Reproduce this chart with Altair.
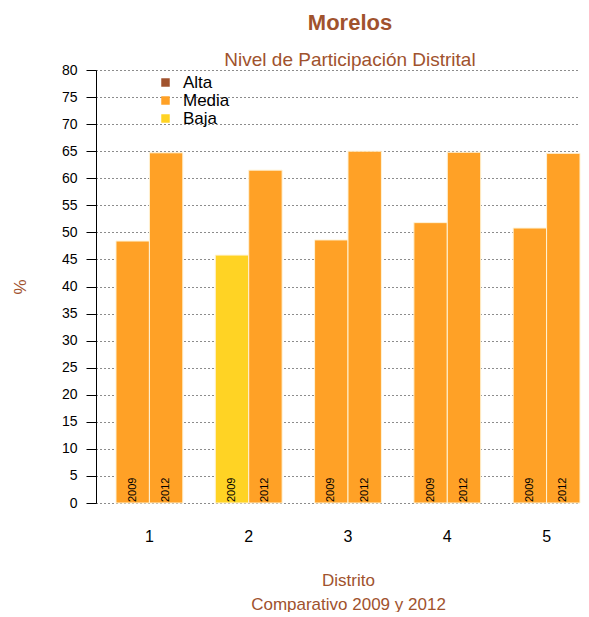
import altair as alt
import pandas as pd

distritos = ["1", "2", "3", "4", "5"]
anios = ["2009", "2012"]
p2009 = [48.4, 45.8, 48.6, 51.8, 50.8]
p2012 = [64.7, 61.5, 65.0, 64.8, 64.6]
nivel2009 = ["Media", "Baja", "Media", "Media", "Media"]
nivel2012 = ["Media", "Media", "Media", "Media", "Media"]
niveles = ["Alta", "Media", "Baja"]
colores = ["#A0522D", "#FFA126", "#FFD324"]
y_ticks = list(range(0, 81, 5))

rows = []
for i, d in enumerate(distritos):
    rows.append({"Distrito": d, "Año": anios[0], "Participacion": p2009[i], "Nivel": nivel2009[i]})
    rows.append({"Distrito": d, "Año": anios[1], "Participacion": p2012[i], "Nivel": nivel2012[i]})
df = pd.DataFrame(rows)

BROWN = "#A0522D"

xscale = alt.Scale(paddingInner=0.327, paddingOuter=0.1007, align=1)
xaxis = alt.Axis(title=["Distrito", "Comparativo 2009 y 2012"], labelAngle=0,
                 domain=False, ticks=False, grid=False, labelFontSize=16,
                 labelColor="black", labelPadding=25, titleColor=BROWN,
                 titleFontSize=17, titleFontWeight="normal", titleLineHeight=24,
                 titlePadding=28, titleX=252)
yscale = alt.Scale(domain=[0, 80], nice=False)
yaxis = alt.Axis(title="%", values=y_ticks, grid=True, gridDash=[1, 3],
                 gridColor="black", gridOpacity=0.9, domainColor="black",
                 tickColor="black", tickSize=10, labelFontSize=14,
                 labelOverlap=False, labelColor="black", labelPadding=9,
                 titleColor=BROWN, titleFontSize=17, titleFontWeight="normal",
                 titlePadding=32)
xoff = alt.XOffset("Año:N", scale=alt.Scale(paddingInner=0, paddingOuter=0))

base = alt.Chart(df)

bars = base.mark_bar(stroke="#FFF3D6", strokeWidth=1).encode(
    x=alt.X("Distrito:N", scale=xscale, sort=distritos, axis=xaxis),
    xOffset=xoff,
    y=alt.Y("Participacion:Q", scale=yscale, axis=yaxis),
    color=alt.Color("Nivel:N", scale=alt.Scale(domain=niveles, range=colores),
                    legend=alt.Legend(title=None, orient="none", legendX=61, legendY=4,
                                      symbolType="square", symbolSize=72,
                                      symbolStrokeWidth=0, labelFontSize=17,
                                      labelColor="black", labelOffset=9,
                                      rowPadding=0)),
)

labels = base.transform_calculate(base0="0").mark_text(
    angle=270, align="left", baseline="middle", fontSize=11, color="black", dx=1
).encode(
    x=alt.X("Distrito:N", scale=xscale, sort=distritos, axis=xaxis),
    xOffset=xoff,
    y=alt.Y("base0:Q", scale=yscale, axis=yaxis),
    text="Año:N",
)

chart = (bars + labels).properties(
    width=484, height=433,
    padding={"left": 3, "top": 4, "right": 0, "bottom": 0},
    title=alt.TitleParams(text="Morelos", subtitle="Nivel de Participación Distrital",
                          fontSize=22, fontWeight="bold", color=BROWN,
                          subtitleFontSize=19, subtitleColor=BROWN, subtitlePadding=16,
                          anchor="middle", offset=-8, dx=12),
).configure(font="Liberation Sans").configure_view(stroke=None)

chart.save("out.html", embed_options={"renderer": "svg", "actions": False})
